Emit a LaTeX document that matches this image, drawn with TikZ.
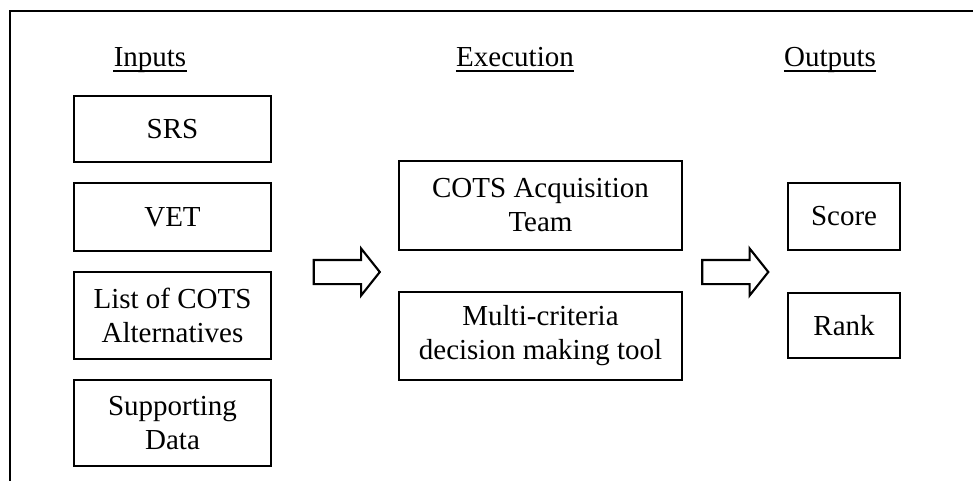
\documentclass[tikz,border=0pt]{standalone}
\usepackage{fontspec}
\setmainfont{Liberation Serif}
\usetikzlibrary{shapes.arrows}
\begin{document}
\begin{tikzpicture}[x=0.75pt,y=-0.75pt,
  txt/.style={font=\fontsize{21.75}{25.5}\selectfont},
  box/.style={txt,draw,line width=1.6pt,inner sep=0pt,align=center},
  head/.style={txt,inner sep=0pt,anchor=base},
  uline/.style={line width=1.1pt},
  blockarrow/.style={draw,line width=1.6pt,single arrow,minimum height=49.5pt,
    minimum width=0pt,single arrow head extend=8.6pt,single arrow tip angle=103,
    single arrow head indent=0pt,inner xsep=0pt,inner ysep=8.25pt}]
\useasboundingbox (0,0) rectangle (973,482);
% frame
\coordinate (ftr) at (973,11);
\coordinate (ftl) at (10,11);
\coordinate (fbl) at (10,481);
\draw[line width=1.9pt] (ftr) -- (ftl) -- (fbl);
% headings
\node[head] (hin) at (150,66) {Inputs};
\node[head] (hex) at (515,66) {Execution};
\node[head] (hout) at (830,66) {Outputs};
\foreach \h in {hin,hex,hout}
  \draw[uline] ([yshift=-3.75pt]\h.base west) -- ([yshift=-3.75pt]\h.base east);
% inputs
\node[box,minimum width=147.75pt,minimum height=49.5pt] (srs) at (172.5,129) {SRS};
\node[box,minimum width=147.75pt,minimum height=51pt] (vet) at (172.5,217) {VET};
\node[box,minimum width=147.75pt,minimum height=65.25pt] (list) at (172.5,315.5) {List of COTS\\Alternatives};
\node[box,minimum width=147.75pt,minimum height=64.5pt] (supp) at (172.5,423) {Supporting\\Data};
% execution
\node[box,minimum width=212.25pt,minimum height=66.75pt] (team) at (540.5,205.5) {COTS Acquisition\\Team};
\node[box,minimum width=212.25pt,minimum height=66pt] (tool) at (540.5,336) {Multi-criteria\\decision making tool};
% outputs
\node[box,minimum width=84pt,minimum height=50.25pt] (score) at (844,216.5) {Score};
\node[box,minimum width=84pt,minimum height=48.75pt] (rank) at (844,325.5) {Rank};
% block arrows
\node[blockarrow] (a1) at (342,272) {};
\node[blockarrow] (a2) at (730.5,272) {};
\end{tikzpicture}
\end{document}
